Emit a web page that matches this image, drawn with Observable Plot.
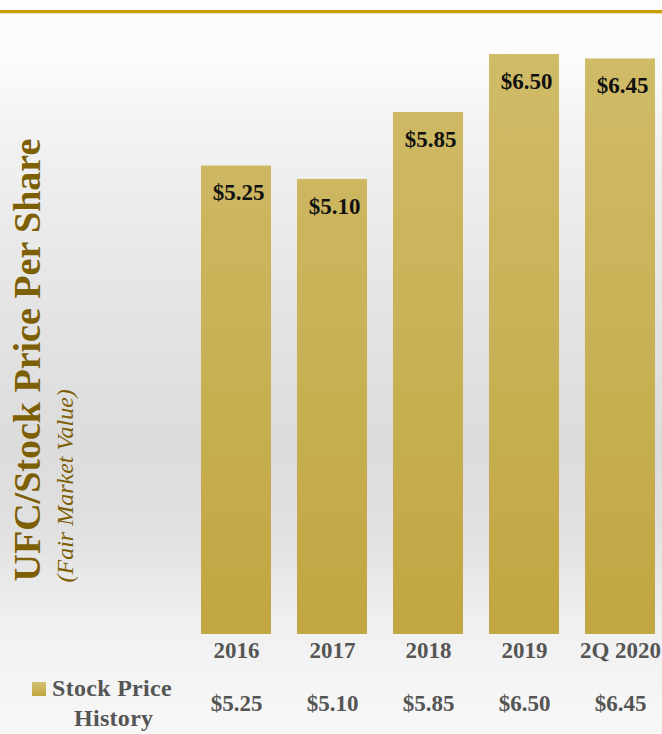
<!DOCTYPE html>
<html>
<head>
<meta charset="utf-8">
<script src="https://cdn.jsdelivr.net/npm/d3@7"></script>
<script src="https://cdn.jsdelivr.net/npm/@observablehq/plot@0.6"></script>
<style>
  html, body { margin: 0; padding: 0; width: 662px; height: 734px; overflow: hidden; }
  body { position: relative;
    background: linear-gradient(to bottom, #fdfdfd 0%, #fcfcfc 7%, #f1f1f1 20%, #e6e6e6 38%, #dcdcdc 60%, #e0e0e0 72%, #f0f0f0 85%, #f8f8f8 100%); }
  #topline { position: absolute; left: 0; top: 10px; width: 662px; height: 3px; background: #c89d00; border-bottom: 1px solid #ead9a8; }
  #chart { position: absolute; left: 0; top: 0; }
  #legend { position: absolute; left: 32px; top: 673px; font-family: "Liberation Serif", serif; font-weight: bold; font-size: 24px; color: #555; line-height: 30px; }
  #legend .sw { position: absolute; left: 0; top: 9px; width: 14px; height: 14px; background: linear-gradient(to bottom, #d3c172, #c1a540); }
  #legend .t1 { position: absolute; left: 20px; top: 0; white-space: nowrap; letter-spacing: 0.3px; }
  #legend .t2 { position: absolute; left: 42px; top: 30px; white-space: nowrap; letter-spacing: 0.3px; }
</style>
</head>
<body>
<div id="topline"></div>
<div id="chart"></div>
<div id="legend"><div class="sw"></div><div class="t1">Stock Price</div><div class="t2">History</div></div>
<script>
const categories = ["2016", "2017", "2018", "2019", "2Q 2020"];
const prices = [5.25, 5.10, 5.85, 6.50, 6.45];
const valueLabels = ["$5.25", "$5.10", "$5.85", "$6.50", "$6.45"];
const yTitle = "UFC/Stock Price Per Share";
const ySubtitle = "(Fair Market Value)";

const data = categories.map((c, i) => ({cat: c, price: prices[i], label: valueLabels[i]}));

const chart = Plot.plot({
  width: 662,
  height: 734,
  marginTop: 54,
  marginBottom: 100,
  marginLeft: 200,
  marginRight: 6,
  style: "background: transparent; font-family: 'Liberation Serif', serif;",
  x: {domain: categories, paddingInner: 0.275, paddingOuter: 0, axis: null},
  y: {domain: [0, 6.5], axis: null},
  marks: [
    Plot.barY(data, {x: "cat", y: "price", fill: "url(#goldGrad)"}),
    Plot.text(data, {x: "cat", y: "price", text: "label", dy: 27, dx: 2, fill: "#111", fontSize: 23, fontWeight: "bold"}),
    Plot.text(data, {x: "cat", text: "cat", frameAnchor: "bottom", dy: 23, fill: "#555", fontSize: 23, fontWeight: "bold"}),
    Plot.text(data, {x: "cat", text: "label", frameAnchor: "bottom", dy: 76, fill: "#555", fontSize: 23, fontWeight: "bold"}),
    Plot.text([yTitle], {text: d => d, frameAnchor: "bottom-left", dx: -161, dy: -53, rotate: -90, textAnchor: "start", fill: "#7d5f06", fontSize: 38, fontWeight: "bold"}),
    Plot.text([ySubtitle], {text: d => d, frameAnchor: "bottom-left", dx: -128, dy: -52, rotate: -90, textAnchor: "start", fill: "#7d5f06", fontSize: 24, fontStyle: "italic", letterSpacing: "0.6px"})
  ]
});

const ns = "http://www.w3.org/2000/svg";
const defs = document.createElementNS(ns, "defs");
defs.innerHTML = '<linearGradient id="goldGrad" gradientUnits="userSpaceOnUse" x1="0" y1="54" x2="0" y2="634">' +
  '<stop offset="0" stop-color="#d0bb68"/><stop offset="1" stop-color="#c1a642"/></linearGradient>';
chart.insertBefore(defs, chart.firstChild);
document.getElementById("chart").appendChild(chart);
</script>
</body>
</html>
